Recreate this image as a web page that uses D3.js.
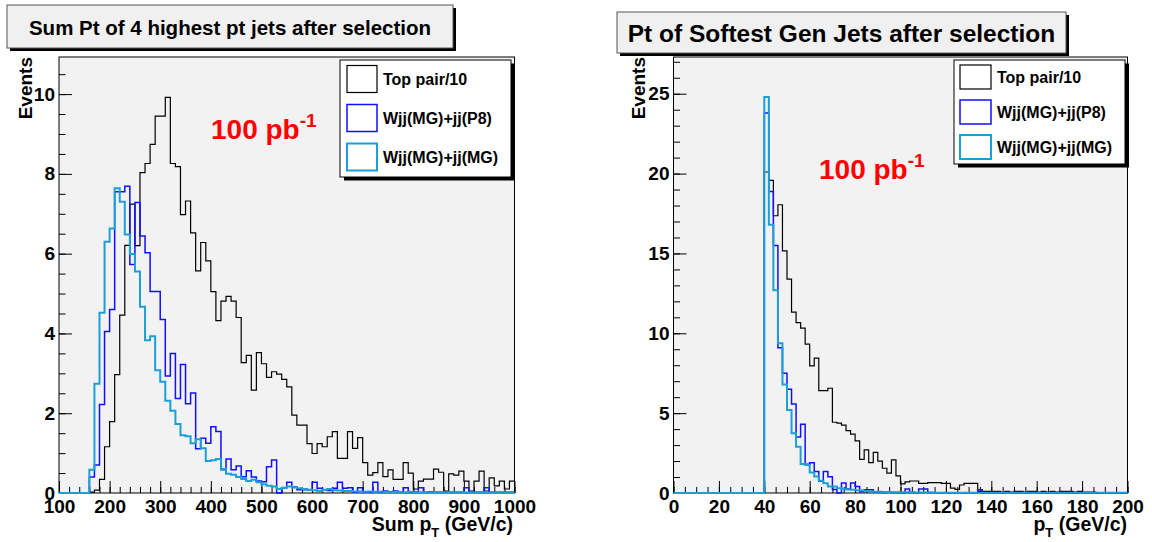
<!DOCTYPE html>
<html>
<head>
<meta charset="utf-8">
<script src="https://cdn.jsdelivr.net/npm/d3@7"></script>
<style>
body { margin: 0; background: #fff; }
text { font-family: "Liberation Sans", Arial, sans-serif; font-weight: bold; }
</style>
</head>
<body>
<div id="chart"></div>
<script>
const width = 1152, height = 542;

// ---- data: events per bin ----
const legendLabels = ["Top pair/10", "Wjj(MG)+jj(P8)", "Wjj(MG)+jj(MG)"];
const seriesColors = ["#000000", "#1010ff", "#1ba0d6"];
const seriesWidths = [1.2, 1.5, 2];

// Sum pT, bins of 10 GeV from 100 to 1000
const sumPtLow = 100, sumPtBin = 10;
const sumPtTopPair = [
  0, 0, 0, 0, 0, 0, 0.02, 0.07, 0.34, 1.16,
  1.79, 2.97, 4.46, 6.21, 7.24, 6.2, 8.03, 8.26, 8.74, 9.45,
  9.45, 9.92, 8.26, 8.18, 6.98, 7.32, 6.52, 5.57, 6.28, 5.82,
  5.05, 4.32, 4.81, 4.93, 4.81, 4.40, 3.27, 3.45, 2.58, 3.52,
  3.24, 2.9, 3.04, 2.98, 2.85, 2.66, 1.95, 1.70, 1.70, 1.24,
  0.99, 1.24, 1.16, 1.41, 1.54, 0.87, 0.87, 1.54, 1.12, 1.39,
  0.76, 0.45, 0.51, 0.76, 0.41, 0.58, 0.34, 0.34, 0.76, 0.5,
  0.1, 0.3, 0.35, 0.35, 0.6, 0.52, 0.05, 0.48, 0.45, 0.55,
  0.3, 0.05, 0.3, 0.55, 0.05, 0.38, 0.18, 0.3, 0.1, 0.3
];
const sumPtWjjP8 = [
  0, 0, 0, 0, 0, 0, 0.4, 0.7, 2.22, 4.05,
  4.6, 7.55, 7.55, 7.69, 5.73, 7.28, 6.44, 6.02, 5.05, 5.05,
  4.35, 2.93, 3.5, 2.37, 3.22, 2.24, 2.51, 1.11, 1.37, 1.25,
  1.66, 1.54, 0.58, 0.85, 0.58, 0.68, 0.41, 0.56, 0.4, 0.3,
  0.28, 0.66, 0.83, 0, 0.13, 0.27, 0.15, 0.08, 0.08, 0.08,
  0.27, 0.12, 0.08, 0.06, 0.12, 0.27, 0.12, 0.13, 0.02, 0.13,
  0.02, 0.02, 0.27, 0.02, 0.05, 0.03, 0.05, 0.02, 0.13, 0.02,
  0.03, 0.13, 0.02, 0.03, 0.02, 0.02, 0.03, 0.02, 0.02, 0.02,
  0.13, 0.02, 0.02, 0.02, 0.13, 0.02, 0.02, 0.02, 0.02, 0.02
];
const sumPtWjjMG = [
  0, 0, 0, 0, 0, 0, 0.58, 2.74, 4.52, 6.3,
  6.63, 7.64, 7.3, 6.48, 5.99, 5.55, 4.67, 3.83, 3.93, 3.08,
  2.79, 2.31, 2.06, 1.73, 1.45, 1.42, 1.25, 1.35, 1.12, 0.8,
  0.82, 0.85, 0.6, 0.48, 0.46, 0.4, 0.35, 0.3, 0.33, 0.27,
  0.22, 0.18, 0.16, 0.1, 0.13, 0.16, 0.14, 0.12, 0.1, 0.08,
  0.07, 0.05, 0.08, 0.1, 0.07, 0.06, 0.05, 0.05, 0.04, 0.04,
  0.03, 0.04, 0.03, 0.03, 0.03, 0.02, 0.03, 0.02, 0.02, 0.03,
  0.02, 0.02, 0.02, 0.02, 0.02, 0.02, 0.02, 0.02, 0.01, 0.02,
  0.01, 0.01, 0.01, 0.02, 0.01, 0.01, 0.01, 0.01, 0.01, 0.01
];

// Softest jet pT, bins of 2 GeV from 0 to 200
const softPtLow = 0, softPtBin = 2;
const softPtTopPair = [
  0, 0, 0, 0, 0, 0, 0, 0, 0, 0,
  0, 0, 0, 0, 0, 0, 0, 0, 0, 0,
  20.1, 19.57, 17.36, 18.05, 15.16, 13.39, 11.32, 10.67, 10.32, 9.32,
  7.96, 8.44, 6.41, 6.41, 6.56, 4.43, 4.37, 4.25, 3.9, 3.69,
  3.27, 2.1, 2.7, 1.9, 2.55, 2.0, 1.55, 1.25, 2.07, 1.07,
  0.57, 0.7, 0.75, 0.75, 0.6, 0.6, 0.65, 0.65, 0.65, 0.6,
  0.6, 0.3, 0.23, 0.5, 0.6, 0.6, 0.6, 0.1, 0.1, 0.1,
  0.1, 0.1, 0.05, 0.1, 0.05, 0.1, 0.1, 0.05, 0.1, 0.1,
  0.05, 0.1, 0.05, 0.1, 0.05, 0.1, 0.1, 0.1, 0.05, 0.1,
  0.05, 0.05, 0.05, 0, 0, 0, 0, 0, 0, 0
];
const softPtWjjP8 = [
  0, 0, 0, 0, 0, 0, 0, 0, 0, 0,
  0, 0, 0, 0, 0, 0, 0, 0, 0, 0,
  23.79, 18.88, 15.5, 9.1, 7.5, 6.5, 5.57, 3.5, 4.3, 1.8,
  1.9, 1.34, 0.74, 1.34, 1.02, 0.22, 0, 0.63, 0.25, 0.63,
  0.4, 0.08, 0.2, 0.2, 0.05, 0.05, 0.03, 0.05, 0.03, 0.03,
  0.02, 0.25, 0.03, 0.02, 0.25, 0.25, 0.03, 0.02, 0.02, 0.02,
  0.02, 0.01, 0.01, 0.02, 0.01, 0.01, 0.01, 0.2, 0.01, 0.01,
  0.01, 0.01, 0, 0.01, 0.01, 0, 0.01, 0.01, 0, 0.01,
  0.01, 0, 0.01, 0.01, 0, 0.01, 0, 0.01, 0, 0,
  0, 0, 0, 0, 0, 0, 0, 0, 0, 0
];
const softPtWjjMG = [
  0, 0, 0, 0, 0, 0, 0, 0, 0, 0,
  0, 0, 0, 0, 0, 0, 0, 0, 0, 0,
  24.79, 16.79, 12.7, 9.38, 6.8, 5.2, 3.74, 2.9, 1.82, 1.76,
  1.28, 1.03, 0.76, 0.61, 0.4, 0.4, 0.3, 0.23, 0.22, 0.2,
  0.18, 0.15, 0.12, 0.1, 0.08, 0.08, 0.06, 0.06, 0.05, 0.05,
  0.04, 0.04, 0.04, 0.03, 0.03, 0.03, 0.03, 0.02, 0.02, 0.02,
  0.02, 0.02, 0.02, 0.02, 0.02, 0.01, 0.01, 0.01, 0.01, 0.01,
  0.01, 0.01, 0.01, 0.01, 0.01, 0.01, 0.01, 0.01, 0.01, 0.01,
  0.01, 0.01, 0.01, 0.01, 0.01, 0.01, 0.01, 0.01, 0.01, 0.01,
  0.01, 0.01, 0.01, 0.01, 0.01, 0.01, 0.01, 0.01, 0.01, 0.01
];

// ---- layout of the two pads ----
const panels = [
  {
    title: "Sum Pt of 4 highest pt jets after selection",
    titleBox: { x: 7, y: 5, w: 446, h: 43 }, titleSize: 20.5, titleBase: 35,
    frame: { left: 59, right: 514.5, top: 57, bottom: 493 },
    xDomain: [100, 1000], yDomain: [0, 10.93],
    xMajor: 100, xMinor: 20, yMajor: 2, yMinor: 0.5,
    binLow: sumPtLow, binWidth: sumPtBin,
    series: [sumPtTopPair, sumPtWjjP8, sumPtWjjMG],
    xLabel: "Sum p", xLabelPos: [513, 531],
    yLabelPos: [32, 57],
    lumiPos: [211, 139],
    legend: { x: 340, y: 60, w: 171, h: 117, rowY: [79, 118, 157], boxX: 347, boxW: 30, boxH: 27, textX: 383 }
  },
  {
    title: "Pt of Softest Gen Jets after selection",
    titleBox: { x: 617, y: 12, w: 449, h: 41 }, titleSize: 24.5, titleBase: 42,
    frame: { left: 673.5, right: 1127.5, top: 57, bottom: 493 },
    xDomain: [0, 200], yDomain: [0, 27.3],
    xMajor: 20, xMinor: 5, yMajor: 5, yMinor: 1,
    binLow: softPtLow, binWidth: softPtBin,
    series: [softPtTopPair, softPtWjjP8, softPtWjjMG],
    xLabel: "p", xLabelPos: [1127, 531],
    yLabelPos: [645, 57],
    lumiPos: [819, 179],
    legend: { x: 954, y: 60, w: 171, h: 104, rowY: [77, 112, 147], boxX: 960, boxW: 31, boxH: 24, textX: 997 }
  }
];

const svg = d3.select("#chart")
  .append("svg")
  .attr("width", width)
  .attr("height", height);

panels.forEach(drawPanel);

function drawPanel(p) {
  const f = p.frame;
  const x = d3.scaleLinear().domain(p.xDomain).range([f.left, f.right]);
  const y = d3.scaleLinear().domain(p.yDomain).range([f.bottom, f.top]);

  // title box with shadow
  const tb = p.titleBox;
  svg.append("rect")
    .attr("x", tb.x + 3).attr("y", tb.y + 3)
    .attr("width", tb.w).attr("height", tb.h)
    .attr("fill", "#000");
  svg.append("rect")
    .attr("x", tb.x).attr("y", tb.y)
    .attr("width", tb.w).attr("height", tb.h)
    .attr("fill", "#f0f0f0").attr("stroke", "#555").attr("stroke-width", 1);
  svg.append("text")
    .attr("x", tb.x + tb.w / 2).attr("y", p.titleBase)
    .attr("text-anchor", "middle")
    .attr("font-size", p.titleSize)
    .text(p.title);

  // frame
  svg.append("rect")
    .attr("x", f.left).attr("y", f.top)
    .attr("width", f.right - f.left).attr("height", f.bottom - f.top)
    .attr("fill", "#f2f2f2").attr("stroke", "#000").attr("stroke-width", 1);

  // axes (ticks inside the frame, ROOT style)
  const xMinorTicks = d3.range(p.xDomain[0], p.xDomain[1] + 1e-9, p.xMinor);
  const xMajorTicks = d3.range(p.xDomain[0], p.xDomain[1] + 1e-9, p.xMajor);
  const yMinorTicks = d3.range(p.yDomain[0], p.yDomain[1], p.yMinor);
  const yMajorTicks = d3.range(p.yDomain[0], p.yDomain[1], p.yMajor);

  const gx = svg.append("g").attr("transform", `translate(0,${f.bottom})`);
  gx.append("g").call(d3.axisBottom(x).tickValues(xMinorTicks).tickSize(-6).tickFormat(""));
  gx.append("g").call(d3.axisBottom(x).tickValues(xMajorTicks).tickSize(-12).tickPadding(7).tickFormat(d3.format("d")));

  const gy = svg.append("g").attr("transform", `translate(${f.left},0)`);
  gy.append("g").call(d3.axisLeft(y).tickValues(yMinorTicks).tickSize(-6.5).tickFormat(""));
  gy.append("g").call(d3.axisLeft(y).tickValues(yMajorTicks).tickSize(-13).tickPadding(4).tickFormat(d3.format("d")));

  svg.selectAll(".domain").remove();
  [gx, gy].forEach(g => g.selectAll("text")
    .attr("font-size", 19)
    .attr("fill", "#000")
    .style("font-family", "'Liberation Sans', Arial, sans-serif")
    .style("font-weight", "bold"));
  [gx, gy].forEach(g => g.selectAll("line").attr("stroke", "#000"));

  // histograms
  const line = d3.line().x(d => x(d[0])).y(d => y(d[1]));
  p.series.forEach((vals, k) => {
    const pts = [];
    vals.forEach((v, i) => {
      pts.push([p.binLow + i * p.binWidth, v], [p.binLow + (i + 1) * p.binWidth, v]);
    });
    svg.append("path")
      .attr("d", line(pts))
      .attr("fill", "none")
      .attr("stroke", seriesColors[k])
      .attr("stroke-width", seriesWidths[k]);
  });

  // axis titles
  const xl = svg.append("text")
    .attr("x", p.xLabelPos[0]).attr("y", p.xLabelPos[1])
    .attr("text-anchor", "end")
    .attr("font-size", 19.5);
  xl.append("tspan").text(p.xLabel);
  xl.append("tspan").attr("font-size", 13).attr("dy", 6).text("T");
  xl.append("tspan").attr("dy", -6).text(" (GeV/c)");

  svg.append("text")
    .attr("transform", `translate(${p.yLabelPos[0]},${p.yLabelPos[1]}) rotate(-90)`)
    .attr("text-anchor", "end")
    .attr("font-size", 19)
    .text("Events");

  // luminosity
  const lumi = svg.append("text")
    .attr("x", p.lumiPos[0]).attr("y", p.lumiPos[1])
    .attr("font-size", 28)
    .attr("fill", "#ff0000");
  lumi.append("tspan").text("100 pb");
  lumi.append("tspan").attr("font-size", 19).attr("dy", -12).text("-1");

  // legend
  const lg = p.legend;
  svg.append("rect")
    .attr("x", lg.x + 4).attr("y", lg.y + 3.5)
    .attr("width", lg.w).attr("height", lg.h)
    .attr("fill", "#000");
  svg.append("rect")
    .attr("x", lg.x).attr("y", lg.y)
    .attr("width", lg.w).attr("height", lg.h)
    .attr("fill", "#fff").attr("stroke", "#000").attr("stroke-width", 1);
  legendLabels.forEach((label, k) => {
    svg.append("rect")
      .attr("x", lg.boxX).attr("y", lg.rowY[k] - lg.boxH / 2)
      .attr("width", lg.boxW).attr("height", lg.boxH)
      .attr("fill", "#fff")
      .attr("stroke", seriesColors[k])
      .attr("stroke-width", seriesWidths[k]);
    svg.append("text")
      .attr("x", lg.textX).attr("y", lg.rowY[k] + 6)
      .attr("font-size", 16)
      .text(label);
  });
}
</script>
</body>
</html>
